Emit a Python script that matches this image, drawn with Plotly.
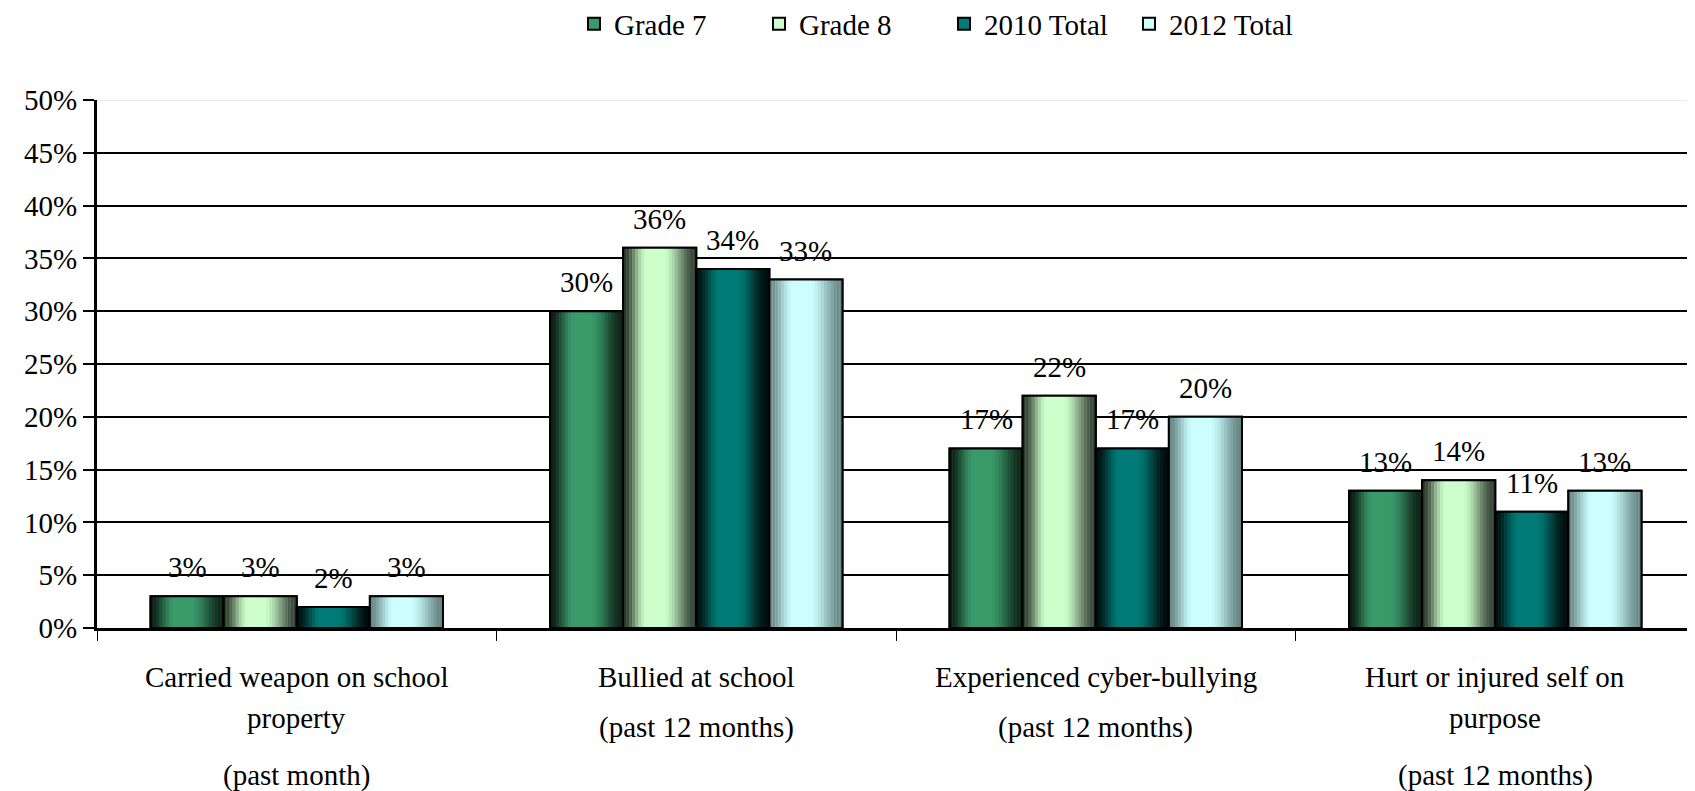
import plotly.graph_objects as go

# ---------------- data ----------------
category_lines = [
    ["Carried weapon on school", "property"],
    ["Bullied at school"],
    ["Experienced cyber-bullying"],
    ["Hurt or injured self on", "purpose"],
]
periods = ["(past month)", "(past 12 months)", "(past 12 months)", "(past 12 months)"]
series_names = ["Grade 7", "Grade 8", "2010 Total", "2012 Total"]
grade7 = [3, 30, 17, 13]
grade8 = [3, 36, 22, 14]
total2010 = [2, 34, 17, 11]
total2012 = [3, 33, 20, 13]
y_ticks = [0, 5, 10, 15, 20, 25, 30, 35, 40, 45, 50]
y_ticktext = [f"{v}%" for v in y_ticks]

# ---------------- style ----------------
FONT = "'Liberation Serif', 'Times New Roman', Times, serif"
FS = 29
shades = {
    "Grade 7": ("#0c1c14", "#3a9a6a", "#0e2419"),
    "Grade 8": ("#2c382c", "#ccffcc", "#354235"),
    "2010 Total": ("#001010", "#007b77", "#000808"),
    "2012 Total": ("#6a8888", "#ccffff", "#688686"),
}
BW = 0.183
K = 24
# the page body has an 8px margin; the figure is sized to fill the rest
W, H = 1687, 783


def hex2rgb(h):
    h = h.lstrip("#")
    return [int(h[i:i + 2], 16) for i in (0, 2, 4)]


def mix(a, b, w):
    a, b = hex2rgb(a), hex2rgb(b)
    return "rgb(%d,%d,%d)" % tuple(round(a[i] + (b[i] - a[i]) * w) for i in range(3))


def smooth(x):
    x = max(0.0, min(1.0, x))
    return x * x * (3 - 2 * x)


values = [grade7, grade8, total2010, total2012]
ncat = len(category_lines)
fig = go.Figure()
annotations = []

for s, (name, vals) in enumerate(zip(series_names, values)):
    left, mid, right = shades[name]
    off = (s - 1.5) * BW
    xs = [ci + off for ci in range(ncat)]
    # base bar (legend entry)
    fig.add_trace(go.Bar(
        x=xs, y=vals, width=BW, name=name,
        marker=dict(color=mid, line=dict(color="black", width=2)),
        legendgroup=name, showlegend=True, hoverinfo="skip",
    ))
    # gradient strips
    sx, sy, sc = [], [], []
    for ci in range(ncat):
        for j in range(K):
            t = (j + 0.5) / K
            if t < 0.45:
                w = smooth(t / 0.33)
                col = mix(left, mid, w)
            else:
                w = smooth((1 - t) / 0.45)
                col = mix(right, mid, w)
            sx.append(ci + off - BW / 2 + t * BW)
            sy.append(vals[ci])
            sc.append(col)
    fig.add_trace(go.Bar(
        x=sx, y=sy, width=BW / K * 1.08,
        marker=dict(color=sc, line=dict(width=0)),
        legendgroup=name, showlegend=False, hoverinfo="skip",
    ))
    # outline
    fig.add_trace(go.Bar(
        x=xs, y=vals, width=BW,
        marker=dict(color="rgba(0,0,0,0)", line=dict(color="black", width=2)),
        legendgroup=name, showlegend=False,
        hovertemplate=name + ": %{y}%<extra></extra>",
    ))
    # value labels
    for x, v in zip(xs, vals):
        annotations.append(dict(
            x=x, y=v, xref="x", yref="y", text=f"{v}%", showarrow=False,
            yanchor="middle", yshift=29,
            font=dict(family=FONT, size=FS, color="black"),
        ))

for ci, lines in enumerate(category_lines):
    for li, ln in enumerate(lines):
        annotations.append(dict(
            x=ci, xref="x", y=0, yref="paper", yanchor="middle",
            yshift=-(49 + li * 41), text=ln, showarrow=False,
            font=dict(family=FONT, size=FS, color="black"),
        ))
    annotations.append(dict(
        x=ci, xref="x", y=0, yref="paper", yanchor="middle",
        yshift=-(99 if len(lines) == 1 else 147), text=periods[ci], showarrow=False,
        font=dict(family=FONT, size=FS, color="black"),
    ))

fig.update_layout(
    width=W, height=H,
    margin=dict(l=89, r=0, t=92, b=163),
    barmode="overlay",
    plot_bgcolor="white", paper_bgcolor="white",
    font=dict(family=FONT, size=FS, color="black"),
    showlegend=True,
    legend=dict(
        orientation="h", xref="container", x=(944 - 8) / W, xanchor="center",
        yref="container", y=1 - (24 - 8) / H, yanchor="middle",
        font=dict(family=FONT, size=FS, color="black"),
        tracegroupgap=0, itemwidth=30, entrywidth=140,
    ),
    annotations=annotations,
    shapes=[dict(type="line", xref="paper", x0=0, x1=1, yref="y", y0=50, y1=50,
                 line=dict(color="#e8e8e8", width=2), layer="above")],
)
fig.update_xaxes(
    range=[-0.5, ncat - 0.5],
    tickvals=[i - 0.5 for i in range(ncat + 1)],
    ticktext=["" for _ in range(ncat + 1)],
    ticks="outside", ticklen=10, tickwidth=1, tickcolor="black",
    showgrid=False, zeroline=False,
    showline=True, linecolor="black", linewidth=3,
)
fig.update_yaxes(
    range=[0, 50], tickvals=y_ticks, ticktext=y_ticktext,
    ticks="outside", ticklen=11, tickwidth=2, tickcolor="black",
    showgrid=True, gridcolor="black", gridwidth=2,
    zeroline=False, showline=True, linecolor="black", linewidth=3,
    tickfont=dict(family=FONT, size=FS, color="black"),
)

fig.write_html("out.html")
